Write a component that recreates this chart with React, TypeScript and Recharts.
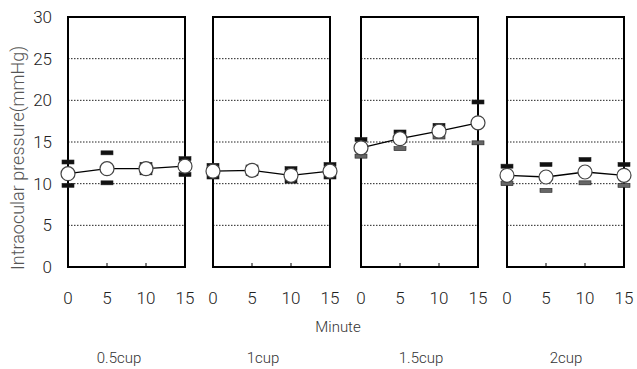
import React from "react";
import {
  LineChart,
  Line,
  XAxis,
  YAxis,
  CartesianGrid,
  ReferenceArea,
} from "recharts";

const minutes = [0, 5, 10, 15];
const cups = ["0.5cup", "1cup", "1.5cup", "2cup"];
const meanIOP = [
  [11.2, 11.8, 11.8, 12.1],
  [11.5, 11.6, 11.0, 11.5],
  [14.3, 15.4, 16.3, 17.3],
  [11.0, 10.8, 11.4, 11.0],
];
const upperIOP = [
  [12.6, 13.7, 12.3, 13.0],
  [12.2, 12.0, 11.8, 12.3],
  [15.3, 16.2, 17.0, 19.8],
  [12.1, 12.3, 12.9, 12.3],
];
const lowerIOP = [
  [9.8, 10.1, 11.3, 11.1],
  [10.8, 11.2, 10.3, 10.8],
  [13.3, 14.2, 15.6, 14.9],
  [10.0, 9.2, 10.1, 9.8],
];
const yTicks = [0, 5, 10, 15, 20, 25, 30];
const gridValues = [5, 10, 15, 20, 25];
const lowerFill = ["#111", "#111", "#666", "#666"];

const FONT = 'Roboto, "Liberation Sans", sans-serif';
const PANEL_LEFT = [68, 213, 361, 507];
const PANEL_W = 117;
const TOP = 17;
const BOTTOM = 267;
const H = 369;
const PAD = 12;

const barShape = (fill: string) => (props: any) => {
  const { cx, cy, index } = props;
  if (cx == null || cy == null) return <g key={index} />;
  return (
    <rect
      key={index}
      x={cx - 6}
      y={cy - 2}
      width={12}
      height={4}
      fill={fill}
      stroke="#222"
      strokeWidth={0.6}
    />
  );
};

const XTick = (props: any) => {
  const { x, y, payload } = props;
  return (
    <g>
      <line x1={x} y1={y} x2={x} y2={y - 4} stroke="#000" strokeWidth={1} />
      <text
        x={x}
        y={y + 37}
        textAnchor="middle"
        fontSize={17}
        fontWeight={300}
        fill="#222"
        fontFamily={FONT}
      >
        {payload.value}
      </text>
    </g>
  );
};

function Panel({ idx }: { idx: number }) {
  const data = minutes.map((m, i) => ({
    minute: m,
    mean: meanIOP[idx][i],
    hi: upperIOP[idx][i],
    lo: lowerIOP[idx][i],
  }));
  const first = idx === 0;
  const yW = first ? 56 : 0;
  const left = PANEL_LEFT[idx] - PAD - yW;
  const width = PANEL_W + 2 * PAD + yW;
  return (
    <div style={{ position: "absolute", left, top: 0 }}>
      <LineChart
        width={width}
        height={H}
        data={data}
        margin={{ top: TOP, right: PAD, left: PAD, bottom: H - BOTTOM - 40 }}
      >
        <CartesianGrid
          vertical={false}
          horizontalValues={gridValues}
          stroke="#222"
          strokeDasharray="1.5 1.5"
          strokeWidth={1}
        />
        <XAxis
          dataKey="minute"
          type="number"
          domain={[0, 15]}
          ticks={minutes}
          tick={<XTick />}
          tickLine={false}
          axisLine={false}
          tickSize={0}
          tickMargin={0}
          height={40}
          interval={0}
        />
        <YAxis
          type="number"
          domain={[0, 30]}
          ticks={yTicks}
          hide={!first}
          width={yW}
          tickLine={false}
          axisLine={false}
          tickSize={0}
          tickMargin={16}
          interval={0}
          tick={{ fontSize: 17, fill: "#222", fontFamily: FONT, fontWeight: 300 }}
        />
        <ReferenceArea
          x1={0}
          x2={15}
          y1={0}
          y2={30}
          fill="none"
          stroke="#000"
          strokeWidth={2}
          ifOverflow="visible"
        />
        <Line
          dataKey="hi"
          stroke="none"
          dot={barShape("#111")}
          activeDot={false}
          isAnimationActive={false}
        />
        <Line
          dataKey="lo"
          stroke="none"
          dot={barShape(lowerFill[idx])}
          activeDot={false}
          isAnimationActive={false}
        />
        <Line
          dataKey="mean"
          stroke="#000"
          strokeWidth={1.3}
          dot={{ r: 7, fill: "#fff", stroke: "#444", strokeWidth: 1.2 }}
          activeDot={false}
          isAnimationActive={false}
        />
      </LineChart>
    </div>
  );
}

const cupX = [119, 263, 421, 566];

export default function App() {
  return (
    <div
      style={{
        position: "absolute",
        left: 0,
        top: 0,
        width: 637,
        height: 369,
        background: "#fff",
        overflow: "hidden",
      }}
    >
      {cups.map((c, i) => (
        <Panel key={c} idx={i} />
      ))}
      <svg
        width={637}
        height={369}
        style={{ position: "absolute", left: 0, top: 0, pointerEvents: "none" }}
      >
        <text
          x={17}
          y={158}
          transform="rotate(-90 17 158)"
          textAnchor="middle"
          dominantBaseline="central"
          fontSize={18}
          fontWeight={300}
          fill="#555"
          fontFamily={FONT}
        >
          Intraocular pressure(mmHg)
        </text>
        <text
          x={338}
          y={332}
          textAnchor="middle"
          fontSize={15}
          fontWeight={300}
          fill="#333"
          fontFamily={FONT}
        >
          Minute
        </text>
        {cups.map((c, i) => (
          <text
            key={c}
            x={cupX[i]}
            y={363}
            textAnchor="middle"
            fontSize={15}
            fontWeight={300}
            fill="#333"
            fontFamily={FONT}
          >
            {c}
          </text>
        ))}
      </svg>
    </div>
  );
}
